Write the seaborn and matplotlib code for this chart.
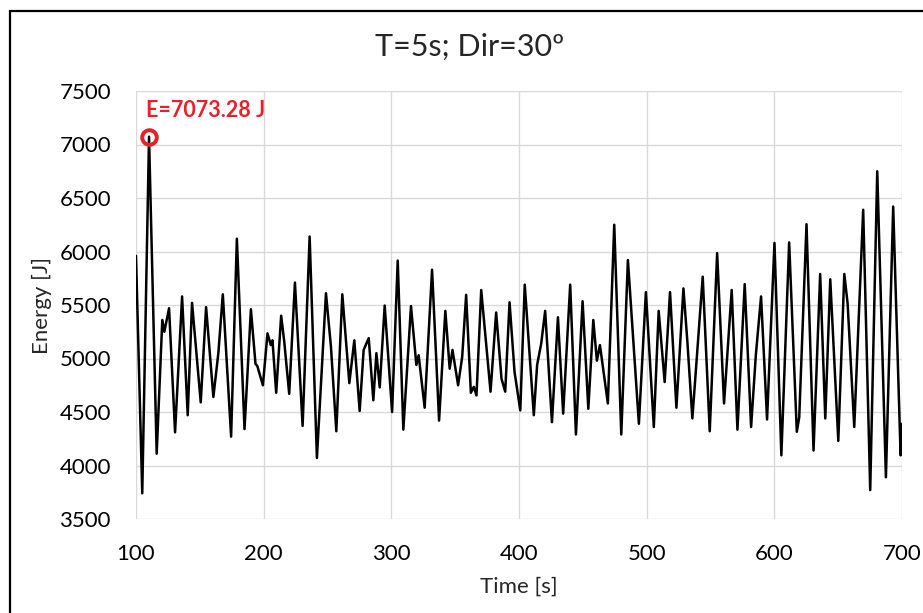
# Serie temporal de energía (T=5s; Dir=30º)
import numpy as np
import pandas as pd
import matplotlib
matplotlib.use('Agg')
import matplotlib.pyplot as plt
from matplotlib.patches import Rectangle
import seaborn as sns

# Datos (picos, valles y hombros)
tiempo = [100.0, 104.9, 110.2, 116.2, 120.6, 122.2, 125.9, 130.6, 136.1, 140.5,
          143.9, 150.7, 154.9, 160.6, 164.5, 168.0, 174.5, 179.0, 185.0, 190.0,
          193.6, 195.0, 199.4, 203.0, 205.6, 206.9, 209.8, 213.7, 216.1, 220.0,
          224.5, 230.5, 236.0, 241.7, 248.8, 252.7, 256.9, 261.6, 267.1, 271.0,
          275.2, 278.3, 282.3, 285.9, 288.3, 290.9, 294.8, 300.6, 305.0, 309.4,
          315.4, 319.6, 321.4, 326.1, 331.9, 337.4, 342.3, 345.7, 347.9, 352.3,
          355.5, 358.6, 362.3, 364.6, 366.7, 370.4, 377.7, 382.1, 386.3, 389.2,
          392.6, 396.5, 401.0, 404.5, 411.6, 414.2, 417.4, 420.5, 425.8, 430.5,
          434.6, 440.1, 444.6, 449.8, 454.3, 458.2, 461.0, 463.4, 469.6, 474.6,
          480.1, 485.3, 493.9, 499.4, 505.6, 509.4, 514.1, 518.3, 523.3, 528.8,
          531.9, 535.8, 543.9, 549.4, 555.2, 560.6, 566.6, 571.1, 576.8, 581.8,
          585.5, 589.6, 594.3, 600.1, 605.5, 611.6, 617.6, 619.5, 625.2, 630.7,
          635.9, 639.9, 643.8, 650.1, 654.8, 657.4, 662.6, 669.6, 675.1, 680.6,
          687.4, 693.1, 698.9, 700.0]
energia = [5960, 3740, 7073.28, 4110, 5360, 5250, 5470, 4310, 5580, 4470,
           5520, 4590, 5480, 4640, 5050, 5600, 4270, 6120, 4340, 5460,
           4950, 4930, 4750, 5235, 5125, 5170, 4680, 5400, 5160, 4670,
           5710, 4370, 6140, 4070, 5610, 5110, 4320, 5600, 4770, 5170,
           4510, 5080, 5190, 4610, 5050, 4730, 5495, 4500, 5915, 4335,
           5490, 4940, 5030, 4540, 5830, 4420, 5445, 4905, 5080, 4750,
           5015, 5595, 4680, 4735, 4655, 5640, 4690, 5430, 4810, 4690,
           5525, 4875, 4515, 5690, 4470, 4940, 5140, 5445, 4405, 5385,
           4485, 5690, 4290, 5535, 4530, 5360, 4980, 5125, 4580, 6250,
           4290, 5920, 4390, 5620, 4360, 5445, 4780, 5620, 4540, 5655,
           5155, 4440, 5765, 4320, 5985, 4580, 5640, 4335, 5695, 4360,
           5030, 5580, 4430, 6080, 4095, 6085, 4315, 4450, 6255, 4140,
           5790, 4440, 5740, 4230, 5790, 5515, 4360, 6390, 3770, 6750,
           3890, 6420, 4095, 4390]

x_ticks = [100, 200, 300, 400, 500, 600, 700]
y_ticks = [3500, 4000, 4500, 5000, 5500, 6000, 6500, 7000, 7500]

df = pd.DataFrame({'Time': tiempo, 'Energy': energia})

sns.set_style('white')
plt.rcParams['font.family'] = ['Lato', 'DejaVu Sans']

rojo = '#E8202A'

fig = plt.figure(figsize=(9.23, 6.13), dpi=100)
ax = fig.add_axes([136 / 923, 1 - 519 / 613, 766 / 923, 428 / 613])

sns.lineplot(data=df, x='Time', y='Energy', color='black', linewidth=1.8,
             solid_joinstyle='round', ax=ax)

# Marcar el máximo
i_max = int(np.argmax(df['Energy']))
t_max = df['Time'][i_max]
e_max = df['Energy'][i_max]
ax.plot([t_max], [e_max], marker='o', markersize=10.5, markerfacecolor='none',
        markeredgecolor=rojo, markeredgewidth=2.8, zorder=5)
ax.annotate(f'E={e_max:.2f} J', xy=(t_max, e_max), xytext=(-2, 19),
            textcoords='offset points', color=rojo, fontsize=15.5,
            fontweight='bold', ha='left', va='center')

# Ejes y rejilla
ax.set_xlim(100, 700)
ax.set_ylim(3500, 7500)
ax.set_xticks(x_ticks)
ax.set_yticks(y_ticks)
ax.grid(True, color='#d9d9d9', linewidth=1.0)
ax.set_axisbelow(True)
for s in ax.spines.values():
    s.set_visible(False)
ax.tick_params(length=0, pad=18, labelsize=16, labelcolor='black')

ax.set_xlabel('Time [s]', fontsize=16, va='center')
ax.set_ylabel('Energy [J]', fontsize=16, va='center')
ax.xaxis.set_label_coords(0.5, (519 - 587) / 428)
ax.yaxis.set_label_coords((42 - 136) / 766, 0.5)

# Título
fig.text(470 / 923, 1 - 47 / 613, 'T=5s; Dir=30º', fontsize=22,
         ha='center', va='center')

# Marco exterior
fig.patches.append(Rectangle((10 / 923, -0.2), 1.5, 0.2 + 1 - 11 / 613,
                             fill=False, edgecolor='black', linewidth=1.6,
                             transform=fig.transFigure, figure=fig))

fig.savefig('out.png', dpi=100)
